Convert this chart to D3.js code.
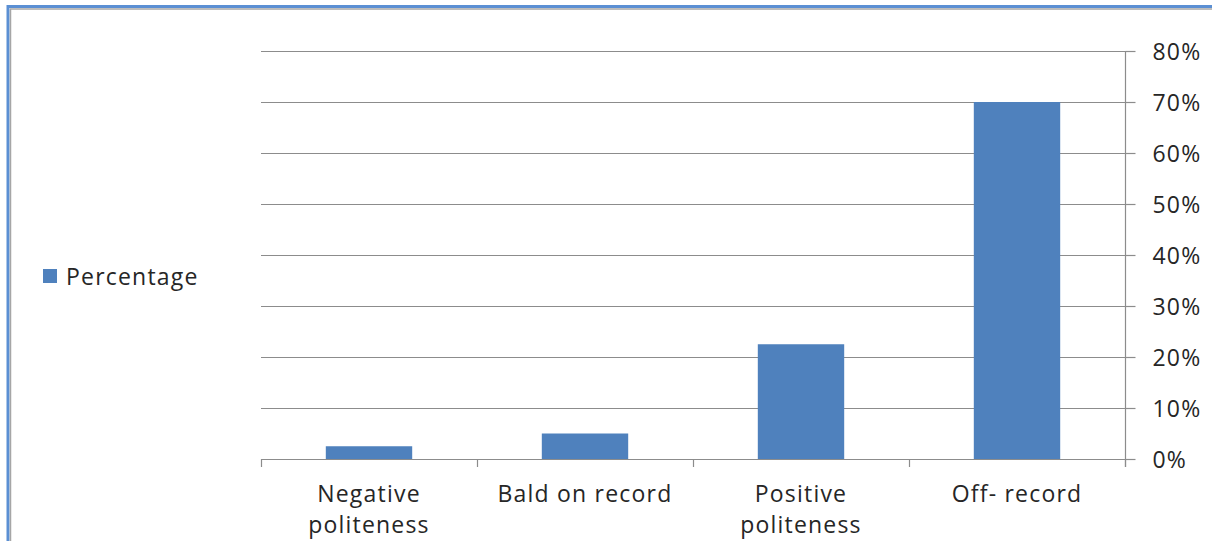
<!DOCTYPE html>
<html>
<head>
<meta charset="utf-8">
<script src="https://cdn.jsdelivr.net/npm/d3@7/dist/d3.min.js"></script>
<style>
  html, body { margin: 0; padding: 0; background: #fff; }
  svg { display: block; }
  text { font-family: "Open Sans", Lato, "Liberation Sans", sans-serif; fill: #262626; letter-spacing: 1.2px; }
</style>
</head>
<body>
<div id="chart"></div>
<script>
// Politeness strategy shares
const categories = [["Negative", "politeness"], ["Bald on record"], ["Positive", "politeness"], ["Off- record"]];
const percentages = [0.025, 0.05, 0.225, 0.70];
const tickValues = [0, 0.1, 0.2, 0.3, 0.4, 0.5, 0.6, 0.7, 0.8];
const seriesName = "Percentage";

const W = 1212, H = 541;
const plot = { left: 261, right: 1125, top: 51, bottom: 459 };
const barColor = "#4F81BD";
const gridColor = "#8c8c8c";
const fontSize = 23;

const svg = d3.select("#chart").append("svg").attr("width", W).attr("height", H);

// Outer frame (blue edge with grey inner shadow)
svg.append("line").attr("x1", 8).attr("x2", W).attr("y1", 6.5).attr("y2", 6.5)
  .attr("stroke", "#5b8fd3").attr("stroke-width", 3);
svg.append("line").attr("x1", 8).attr("x2", 8).attr("y1", 5).attr("y2", H)
  .attr("stroke", "#5b8fd3").attr("stroke-width", 3);
svg.append("line").attr("x1", 10).attr("x2", W).attr("y1", 9).attr("y2", 9)
  .attr("stroke", "#a6a6a6").attr("stroke-width", 1.5);
svg.append("line").attr("x1", 10.5).attr("x2", 10.5).attr("y1", 9).attr("y2", H)
  .attr("stroke", "#a6a6a6").attr("stroke-width", 1.5);

const x = d3.scaleBand().domain(d3.range(categories.length))
  .range([plot.left, plot.right]).paddingInner(0.6).paddingOuter(0.3);
const y = d3.scaleLinear().domain([0, 0.8]).range([plot.bottom, plot.top]);

// Horizontal gridlines
svg.append("g").selectAll("line").data(tickValues).join("line")
  .attr("x1", plot.left).attr("x2", plot.right)
  .attr("y1", d => Math.round(y(d)) + 0.5).attr("y2", d => Math.round(y(d)) + 0.5)
  .attr("stroke", gridColor).attr("stroke-width", 1.2);

// Bars
svg.append("g").selectAll("rect").data(percentages).join("rect")
  .attr("x", (d, i) => x(i)).attr("width", x.bandwidth())
  .attr("y", d => y(d)).attr("height", d => y(0) - y(d))
  .attr("fill", barColor);

// Right value axis
const yAxis = d3.axisRight(y).tickValues(tickValues).tickSize(10).tickPadding(17)
  .tickFormat(d3.format(".0%"));
const gy = svg.append("g").attr("transform", `translate(${plot.right + 0.5},0)`).call(yAxis);
gy.select(".domain").attr("stroke", gridColor).attr("stroke-width", 1.2)
  .attr("d", `M0,${plot.top}V${plot.bottom + 8}`);
gy.selectAll(".tick line").attr("stroke", gridColor).attr("stroke-width", 1.2)
  .attr("x1", 0);
gy.selectAll(".tick text").attr("font-size", fontSize).attr("fill", "#262626")
  .attr("font-family", "'Open Sans', Lato, sans-serif").attr("dy", "0.35em");

// Bottom category axis with boundary ticks
const boundaries = d3.range(categories.length + 1).map(i => plot.left + i * (plot.right - plot.left) / categories.length);
svg.append("line").attr("x1", plot.left).attr("x2", plot.right)
  .attr("y1", plot.bottom + 0.5).attr("y2", plot.bottom + 0.5)
  .attr("stroke", gridColor).attr("stroke-width", 1.2);
svg.append("g").selectAll("line").data(boundaries).join("line")
  .attr("x1", d => Math.round(d) + 0.5).attr("x2", d => Math.round(d) + 0.5)
  .attr("y1", plot.bottom).attr("y2", plot.bottom + 8)
  .attr("stroke", gridColor).attr("stroke-width", 1.2);

const labels = svg.append("g").selectAll("text").data(categories).join("text")
  .attr("x", (d, i) => x(i) + x.bandwidth() / 2)
  .attr("y", 502)
  .attr("text-anchor", "middle").attr("font-size", fontSize);
labels.selectAll("tspan").data(d => d).join("tspan")
  .attr("x", function () { return this.parentNode.getAttribute("x"); })
  .attr("dy", (d, i) => i === 0 ? 0 : 31)
  .text(d => d);

// Legend
svg.append("rect").attr("x", 43).attr("y", 269).attr("width", 14).attr("height", 14).attr("fill", barColor);
svg.append("text").attr("x", 66).attr("y", 285).attr("font-size", fontSize).text(seriesName);
</script>
</body>
</html>
